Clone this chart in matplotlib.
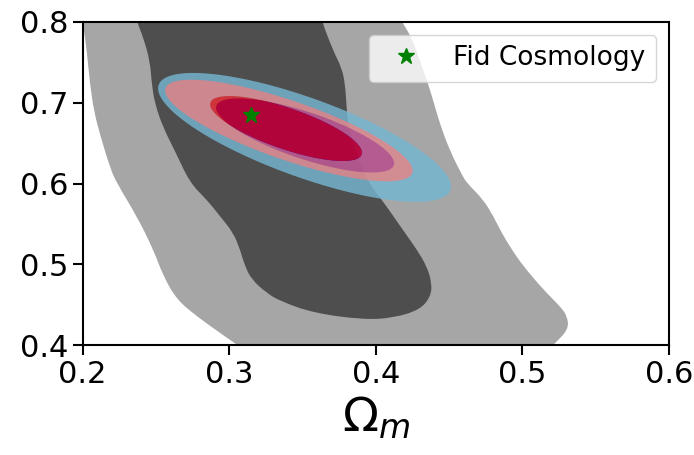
import numpy as np
import matplotlib
matplotlib.use('Agg')
import matplotlib.pyplot as plt
from matplotlib.path import Path
from matplotlib.patches import PathPatch

# wide contours (outer = 95%, inner = 68%), vertices
wide_outer_om = [0.1949, 0.2005, 0.2029, 0.2051, 0.2078, 0.2119, 0.2188, 0.2233,
                 0.2370, 0.2483, 0.2551, 0.2643, 0.2779, 0.2938, 0.3052, 0.3211,
                 0.5121, 0.5211, 0.5314, 0.5307, 0.5257, 0.5143, 0.5007, 0.4928,
                 0.4859, 0.4802, 0.4734, 0.4621, 0.4587, 0.4507, 0.4439, 0.4393,
                 0.4359, 0.4302, 0.4246, 0.4177, 0.4111]
wide_outer_ol = [0.8265, 0.7960, 0.7632, 0.7220, 0.6891, 0.6602, 0.6191, 0.6006,
                 0.5595, 0.5183, 0.4854, 0.4565, 0.4360, 0.4154, 0.4010, 0.3821,
                 0.3821, 0.4010, 0.4195, 0.4360, 0.4484, 0.4689, 0.4978, 0.5183,
                 0.5389, 0.5595, 0.5800, 0.6006, 0.6109, 0.6398, 0.6726, 0.7015,
                 0.7220, 0.7509, 0.7796, 0.8002, 0.8204]

wide_inner_om = [0.2344, 0.2370, 0.2415, 0.2460, 0.2472, 0.2495, 0.2551, 0.2631,
                 0.2733, 0.2847, 0.2938, 0.3029, 0.3074, 0.3108, 0.3154, 0.3256,
                 0.3347, 0.3574, 0.3915, 0.4120, 0.4302, 0.4375, 0.4382, 0.4348,
                 0.4280, 0.4200, 0.4120, 0.4041, 0.3950, 0.3859, 0.3811, 0.3800,
                 0.3791, 0.3768, 0.3711, 0.3632, 0.3606]
wide_inner_ol = [0.8204, 0.8002, 0.7796, 0.7509, 0.7220, 0.6973, 0.6685, 0.6398,
                 0.6006, 0.5800, 0.5595, 0.5389, 0.5183, 0.4978, 0.4812, 0.4648,
                 0.4549, 0.4401, 0.4319, 0.4340, 0.4442, 0.4607, 0.4772, 0.4978,
                 0.5183, 0.5389, 0.5595, 0.5800, 0.6006, 0.6420, 0.6720, 0.6960,
                 0.7220, 0.7426, 0.7632, 0.8002, 0.8204]

# forecast ellipses: centre, half widths in Om and OL, correlation (outer, inner)
blue_center = [(0.3514, 0.6569), (0.3518, 0.6593)]
blue_half_om = [0.0999, 0.0607]
blue_half_ol = [0.0796, 0.0457]
blue_rho = [-0.76, -0.75]

red_center = [(0.3407, 0.6654), (0.3388, 0.6679)]
red_half_om = [0.0844, 0.0518]
red_half_ol = [0.0627, 0.0401]
red_rho = [-0.79, -0.745]

fid_om = [0.315]
fid_ol = [0.685]


def smooth_patch(xs, ys, **kw):
    # closed outline drawn with quadratic curves through the edge midpoints
    p = np.column_stack([xs, ys])
    mid = (p + np.roll(p, -1, axis=0)) / 2
    verts = [mid[-1]]
    codes = [Path.MOVETO]
    for i in range(len(p)):
        verts += [p[i], mid[i]]
        codes += [Path.CURVE3, Path.CURVE3]
    return PathPatch(Path(verts, codes), **kw)


def ellipse(c, hx, hy, rho, n=300):
    t = np.linspace(0, 2*np.pi, n)
    x = c[0] + hx*np.cos(t)
    y = c[1] + hy*(rho*np.cos(t) + np.sqrt(1 - rho**2)*np.sin(t))
    return np.column_stack([x, y])


def draw_set(ax, centers, hxs, hys, rhos, colors, alpha):
    outer = ellipse(centers[0], hxs[0], hys[0], rhos[0])
    inner = ellipse(centers[1], hxs[1], hys[1], rhos[1])
    # ring between the two levels, like contourf does
    verts = np.vstack([outer, inner[::-1]])
    codes = np.full(len(verts), Path.LINETO)
    codes[0] = Path.MOVETO
    codes[len(outer)] = Path.MOVETO
    ax.add_patch(PathPatch(Path(verts, codes), fc=colors[0], ec='none', alpha=alpha))
    ax.fill(inner[:, 0], inner[:, 1], color=colors[1], ec='none', alpha=alpha)


fig = plt.figure(figsize=(6.94, 4.55), dpi=100)
ax = fig.add_axes([0.119, 0.2407, 0.845, 0.712])

ax.add_patch(smooth_patch(wide_outer_om, wide_outer_ol, fc='#a6a6a6', ec='none'))
ax.add_patch(smooth_patch(wide_inner_om, wide_inner_ol, fc='#4e4e4e', ec='none'))

draw_set(ax, blue_center, blue_half_om, blue_half_ol, blue_rho, ['#75b6d2', '#0000cd'], 0.82)
draw_set(ax, red_center, red_half_om, red_half_ol, red_rho, ['#fc7b7a', '#ff0000'], 0.68)

ax.plot(fid_om, fid_ol, '*', color='green', markersize=12, ls='none', label='Fid Cosmology')

ax.set_xlim(0.2, 0.6)
ax.set_ylim(0.4, 0.8)
ax.set_xticks([0.2, 0.3, 0.4, 0.5, 0.6])
ax.set_yticks([0.4, 0.5, 0.6, 0.7, 0.8])
ax.tick_params(labelsize=22, length=7, width=1.5)
for s in ax.spines.values():
    s.set_linewidth(1.5)
ax.set_xlabel(r'$\Omega_m$', fontsize=34)
ax.legend(loc='upper right', fontsize=19, numpoints=1)

fig.savefig('out.png', dpi=100)
